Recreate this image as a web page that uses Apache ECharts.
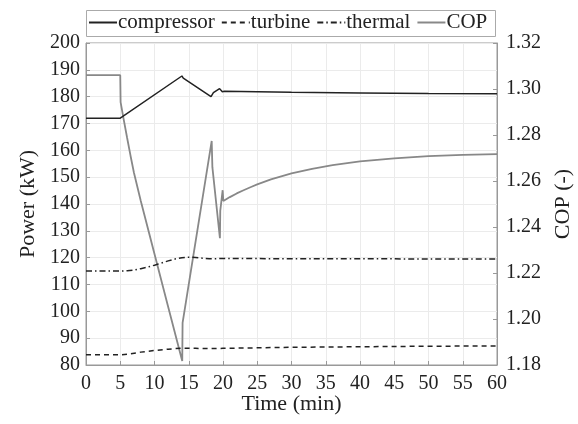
<!DOCTYPE html>
<html><head><meta charset="utf-8">
<script src="https://cdn.jsdelivr.net/npm/echarts@6/dist/echarts.min.js"></script>
<style>html,body{margin:0;padding:0;background:#fff;}#c{width:578px;height:424px;}</style>
</head><body><div id="c"></div>
<script>
const xTicks = [0, 5, 10, 15, 20, 25, 30, 35, 40, 45, 50, 55, 60];
const compTime = [0, 5, 14, 14.2, 18.25, 18.6, 19.5, 19.9, 20.2, 25, 30, 40, 50, 60];
const compPower = [172, 172, 187.7, 186.9, 180, 181.5, 183, 181.8, 182, 181.8, 181.6, 181.4, 181.2, 181.1];
const turbTime = [0, 5, 6, 8, 10, 12, 14, 16, 18, 20, 25, 30, 40, 50, 60];
const turbPower = [83.8, 83.8, 84.0, 84.8, 85.4, 85.9, 86.3, 86.2, 86.1, 86.2, 86.4, 86.6, 86.8, 87.0, 87.1];
const thermTime = [0, 5, 6, 7, 8, 9, 10, 11, 12, 13, 14, 15, 16, 17, 18, 19, 20, 30, 45, 60];
const thermPower = [115, 115, 115.1, 115.4, 115.9, 116.5, 117.2, 118.0, 118.8, 119.5, 120.0, 120.2, 120.1, 119.8, 119.6, 119.6, 119.7, 119.6, 119.55, 119.5];
const copTime = [0, 5, 5.05, 5.5, 6, 6.5, 7, 8, 10, 12, 14.05, 14.1, 18.35, 18.45, 19.55, 19.6, 19.95, 20.05, 21, 22, 23, 24, 25, 27, 30, 33, 36, 40, 45, 50, 55, 60];
const copVal = [1.306, 1.306, 1.2943, 1.2868, 1.2788, 1.2710, 1.2636, 1.2513, 1.2283, 1.2052, 1.1817, 1.1983, 1.2774, 1.2660, 1.2351, 1.2470, 1.2560, 1.2513, 1.2530, 1.2546, 1.2560, 1.2573, 1.2585, 1.2607, 1.2633, 1.2653, 1.2669, 1.2685, 1.2698, 1.2708, 1.2714, 1.2717];

const pairs = (t, v) => t.map((x, i) => [x, v[i]]);
const FONT = 'Liberation Serif';
const txt = '#222';
const chart = echarts.init(document.getElementById('c'), null, {renderer: 'canvas'});
chart.setOption({
  animation: false,
  textStyle: {fontFamily: FONT, color: txt},
  grid: {left: 86, right: 81, top: 43, bottom: 59, show: true, borderColor: '#999', borderWidth: 1, containLabel: false, outerBoundsMode: 'none'},
  graphic: [{type: 'rect', left: 86, top: 10, shape: {width: 409, height: 26}, style: {fill: '#fff', stroke: '#aaa', lineWidth: 1}, z: 0}],
  legend: {
    left: 88, top: 12, padding: 0, itemGap: 6, itemWidth: 28, itemHeight: 14,
    itemStyle: {opacity: 0},
    textStyle: {fontFamily: FONT, fontSize: 21, color: txt, padding: [0, 0, 0, -4]},
    data: ['compressor', 'turbine', 'thermal', 'COP'], z: 5
  },
  xAxis: {
    type: 'value', min: 0, max: 60, interval: 5,
    name: 'Time (min)', nameLocation: 'middle', nameGap: 28, nameMoveOverlap: false,
    nameTextStyle: {fontFamily: FONT, fontSize: 22, color: txt},
    axisLine: {show: true, lineStyle: {color: '#999'}},
    axisTick: {show: true, inside: true, length: 4, lineStyle: {color: '#999'}},
    axisLabel: {fontFamily: FONT, fontSize: 20, color: txt, margin: 9, formatter: v => xTicks.includes(v) ? String(v) : ''},
    splitLine: {show: true, lineStyle: {color: '#ebebeb'}}
  },
  yAxis: [{
    type: 'value', min: 80, max: 200, interval: 10, position: 'left',
    name: 'Power (kW)', nameLocation: 'middle', nameGap: 46, nameRotate: 90,
    nameTextStyle: {fontFamily: FONT, fontSize: 22, color: txt},
    axisLine: {show: true, lineStyle: {color: '#999'}},
    axisTick: {show: true, inside: true, length: 4, lineStyle: {color: '#999'}},
    axisLabel: {fontFamily: FONT, fontSize: 20, color: txt, margin: 6},
    splitLine: {show: true, lineStyle: {color: '#ebebeb'}}
  }, {
    type: 'value', min: 1.18, max: 1.32, interval: 0.02, position: 'right',
    name: 'COP (-)', nameLocation: 'middle', nameGap: 50, nameRotate: 90,
    nameTextStyle: {fontFamily: FONT, fontSize: 22, color: txt},
    axisLine: {show: true, lineStyle: {color: '#999'}},
    axisTick: {show: true, inside: true, length: 4, lineStyle: {color: '#999'}},
    axisLabel: {fontFamily: FONT, fontSize: 20, color: txt, margin: 9, formatter: v => v.toFixed(2)},
    splitLine: {show: false}
  }],
  series: [
    {name: 'compressor', type: 'line', data: pairs(compTime, compPower), symbol: 'none', lineStyle: {color: '#222', width: 1.5}, itemStyle: {color: '#222'}, z: 4},
    {name: 'turbine', type: 'line', data: pairs(turbTime, turbPower), symbol: 'none', lineStyle: {color: '#222', width: 1.5, type: [5, 4]}, itemStyle: {color: '#222'}, z: 4},
    {name: 'thermal', type: 'line', data: pairs(thermTime, thermPower), symbol: 'none', lineStyle: {color: '#222', width: 1.5, type: [6, 3, 1.5, 3]}, itemStyle: {color: '#222'}, z: 4},
    {name: 'COP', type: 'line', yAxisIndex: 1, data: pairs(copTime, copVal), symbol: 'none', lineStyle: {color: '#888', width: 1.8}, itemStyle: {color: '#888'}, z: 3}
  ]
});
</script></body></html>
